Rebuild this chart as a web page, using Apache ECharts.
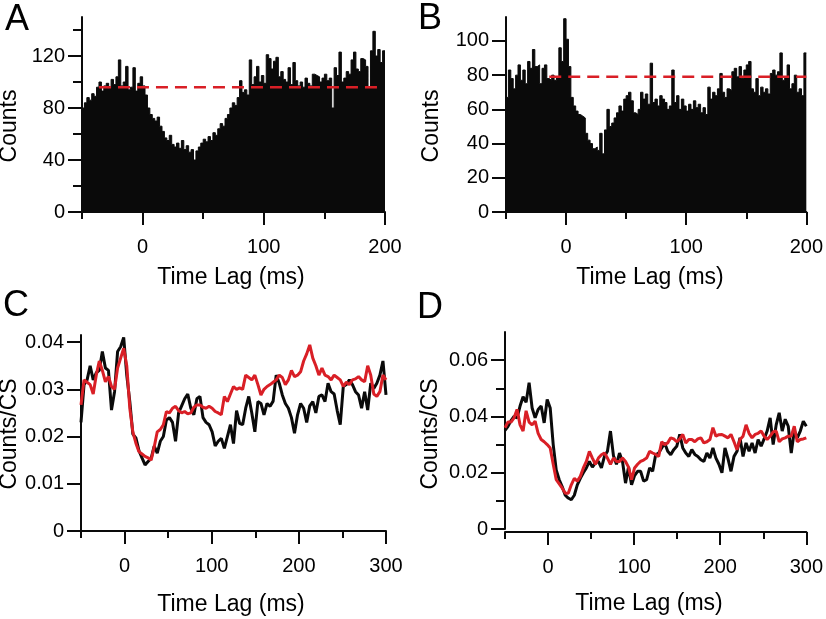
<!DOCTYPE html>
<html>
<head>
<meta charset="utf-8">
<script src="https://cdn.jsdelivr.net/npm/echarts@6/dist/echarts.min.js"></script>
<style>
html,body{margin:0;padding:0;background:#fff;}
#chart{width:826px;height:619px;}
</style>
</head>
<body>
<div id="chart"></div>
<script>
// ---------- data ----------
// Histograms (panels A, B): 2 ms bins starting at -50 ms
const binStart = -50;
const binWidth = 2;
const countsA = [
  80, 84, 88, 86, 91, 89, 96, 100, 93, 97,
  99, 95, 102, 98, 104, 117, 97, 100, 112, 94,
  96, 111, 93, 99, 104, 97, 90, 80, 75, 72,
  70, 73, 66, 62, 57, 55, 59, 52, 50, 53,
  49, 55, 48, 51, 46, 48, 40, 47, 50, 53,
  56, 54, 58, 55, 61, 59, 64, 68, 66, 72,
  75, 80, 84, 82, 88, 101, 92, 94, 90, 117,
  98, 104, 112, 100, 105, 99, 121, 118, 110, 116,
  119, 104, 108, 102, 100, 111, 98, 115, 101, 97,
  100, 96, 103, 99, 97, 106, 105, 104, 100, 103,
  106, 101, 103, 80, 111, 105, 123, 100, 103, 108,
  106, 117, 123, 110, 108, 118, 117, 112, 96, 124,
  139, 120, 125, 115, 124
];
const countsB = [
  67, 83, 78, 72, 80, 86, 77, 83, 75, 88,
  84, 95, 85, 86, 75, 84, 86, 78, 77, 80,
  77, 79, 96, 88, 113, 101, 85, 67, 62, 59,
  57, 56, 55, 46, 42, 40, 37, 38, 36, 46,
  34, 48, 60, 50, 52, 55, 58, 62, 59, 66,
  68, 70, 65, 58, 57, 60, 70, 66, 69, 63,
  87, 64, 66, 62, 68, 66, 64, 60, 62, 83,
  64, 68, 60, 66, 62, 59, 63, 60, 65, 61,
  63, 58, 61, 57, 73, 66, 70, 68, 72, 81,
  70, 67, 72, 71, 82, 84, 79, 85, 78, 83,
  86, 88, 72, 70, 78, 68, 73, 70, 72, 69,
  81, 83, 80, 82, 93, 77, 79, 86, 72, 75,
  80, 70, 72, 68, 93
];
const baselineA = 96;
const baselineSpanA = [-36, 198];
const baselineB = 79;
const baselineSpanB = [-14, 200];

// Normalised curves (panels C, D): samples every 3.5 ms from -50 ms to 300 ms
const lagStart = -50;
const lagStep = 3.5;
const cBlack = [
  0.023, 0.031, 0.032, 0.035, 0.032, 0.0335, 0.034, 0.038, 0.0345, 0.034,
  0.0256, 0.0295, 0.038, 0.039, 0.041, 0.033, 0.0274, 0.0205, 0.0197, 0.017,
  0.0155, 0.014, 0.0147, 0.0154, 0.018, 0.0165, 0.019, 0.020, 0.0235, 0.024,
  0.023, 0.019, 0.025, 0.0265, 0.028, 0.029, 0.026, 0.0246, 0.028, 0.0285,
  0.024, 0.023, 0.0225, 0.021, 0.018, 0.019, 0.0196, 0.0175, 0.020, 0.0225,
  0.0185, 0.0255, 0.0228, 0.0225, 0.026, 0.0285, 0.025, 0.021, 0.0274, 0.027,
  0.0246, 0.027, 0.0264, 0.0275, 0.033, 0.0313, 0.0288, 0.027, 0.026, 0.024,
  0.0207, 0.0246, 0.027, 0.026, 0.023, 0.0265, 0.0274, 0.025, 0.0285, 0.0288,
  0.0274, 0.0313, 0.0295, 0.029, 0.0255, 0.0225, 0.0306, 0.031, 0.032, 0.031,
  0.0295, 0.0288, 0.026, 0.0295, 0.0256, 0.0313, 0.0302, 0.0313, 0.033, 0.036,
  0.0288
];
const cRed = [
  0.0267, 0.032, 0.0315, 0.031, 0.029, 0.033, 0.036, 0.034, 0.0316, 0.0327,
  0.0306, 0.030, 0.0345, 0.0366, 0.0387, 0.035, 0.026, 0.021, 0.0186, 0.0168,
  0.0163, 0.0158, 0.0155, 0.015, 0.0178, 0.021, 0.0215, 0.0225, 0.0253, 0.025,
  0.026, 0.0264, 0.0255, 0.025, 0.0253, 0.0248, 0.025, 0.0262, 0.0267, 0.0267,
  0.0262, 0.026, 0.0264, 0.026, 0.0253, 0.025, 0.0246, 0.0285, 0.0274, 0.029,
  0.0306, 0.030, 0.0303, 0.030, 0.033, 0.0325, 0.032, 0.033, 0.031, 0.0288,
  0.030, 0.0306, 0.031, 0.0315, 0.032, 0.033, 0.0325, 0.031, 0.032, 0.034,
  0.0327, 0.033, 0.0337, 0.036, 0.0375, 0.0394, 0.0366, 0.035, 0.033, 0.0345,
  0.033, 0.0327, 0.032, 0.033, 0.0325, 0.032, 0.0306, 0.0315, 0.031, 0.032,
  0.0322, 0.0327, 0.032, 0.0316, 0.035, 0.033, 0.029, 0.0285, 0.0295, 0.033,
  0.032
];
const dBlack = [
  0.035, 0.0365, 0.0385, 0.040, 0.0395, 0.0437, 0.047, 0.045, 0.052, 0.043,
  0.0395, 0.0425, 0.0437, 0.0377, 0.046, 0.043, 0.030, 0.021, 0.0175, 0.015,
  0.012, 0.011, 0.0104, 0.012, 0.0157, 0.018, 0.020, 0.0217, 0.024, 0.022,
  0.0235, 0.024, 0.0217, 0.0258, 0.0276, 0.0348, 0.026, 0.023, 0.027, 0.024,
  0.0163, 0.022, 0.0157, 0.019, 0.0205, 0.0205, 0.017, 0.0175, 0.0217, 0.0205,
  0.0264, 0.027, 0.0288, 0.0306, 0.0276, 0.0264, 0.0282, 0.0294, 0.0336, 0.0288,
  0.027, 0.0258, 0.0282, 0.0265, 0.0258, 0.0246, 0.024, 0.027, 0.0252, 0.0288,
  0.0252, 0.023, 0.020, 0.0288, 0.025, 0.0205, 0.0258, 0.0276, 0.0324, 0.0258,
  0.0306, 0.0276, 0.0306, 0.027, 0.0318, 0.0294, 0.032, 0.0348, 0.0395, 0.030,
  0.037, 0.0413, 0.0348, 0.039, 0.0365, 0.027, 0.0348, 0.0324, 0.0348, 0.0383,
  0.0365
];
const dRed = [
  0.036, 0.038, 0.038, 0.0395, 0.0425, 0.037, 0.0348, 0.042, 0.038, 0.037,
  0.0383, 0.034, 0.0318, 0.031, 0.030, 0.0288, 0.023, 0.0175, 0.016, 0.0145,
  0.0127, 0.0127, 0.0157, 0.018, 0.017, 0.0187, 0.0217, 0.024, 0.0276, 0.0252,
  0.023, 0.0252, 0.0264, 0.027, 0.0252, 0.023, 0.0252, 0.024, 0.024, 0.0252,
  0.024, 0.022, 0.0175, 0.0217, 0.023, 0.024, 0.0245, 0.0252, 0.0276, 0.027,
  0.0265, 0.0258, 0.031, 0.030, 0.0306, 0.0324, 0.032, 0.031, 0.032, 0.0336,
  0.0306, 0.0318, 0.0318, 0.031, 0.032, 0.0324, 0.0306, 0.031, 0.0318, 0.036,
  0.033, 0.0335, 0.0336, 0.033, 0.0324, 0.0336, 0.031, 0.0282, 0.0318, 0.033,
  0.037, 0.034, 0.0324, 0.0336, 0.034, 0.0348, 0.033, 0.0318, 0.033, 0.0345,
  0.0348, 0.031, 0.032, 0.0324, 0.033, 0.033, 0.0365, 0.031, 0.0318, 0.032,
  0.0324
];

// tick values
const xMajorAB = [0, 100, 200];
const xMinorAB = [-50, 50, 150];
const yMajorA = [0, 40, 80, 120];
const yMinorA = [20, 60, 100, 140];
const yMajorB = [0, 20, 40, 60, 80, 100];
const xMajorCD = [0, 100, 200, 300];
const xMinorCD = [-50, 50, 150, 250];
const yMajorC = [0, 0.01, 0.02, 0.03, 0.04];
const yMajorD = [0, 0.02, 0.04, 0.06];
const yMinorD = [0.01, 0.03, 0.05];

// ---------- chart ----------
const FONT = '"Liberation Sans", Arial, Helvetica, sans-serif';
const RED = '#d91f26';
const INK = '#0a0a0a';

function xAxes(grid, min, max, major, minor, offset) {
  const base = {
    type: 'value', gridIndex: grid, min: min, max: max, position: 'bottom',
    offset: offset || 0, splitLine: { show: false }
  };
  return [
    Object.assign({}, base, {
      axisLine: { show: true, onZero: false, lineStyle: { color: INK, width: 2 } },
      axisTick: { show: true, customValues: major, length: 13, lineStyle: { color: INK, width: 2 } },
      axisLabel: { show: true, customValues: major, margin: 25, color: '#000', fontSize: 20, fontFamily: FONT }
    }),
    Object.assign({}, base, {
      axisLine: { show: false, onZero: false },
      axisTick: { show: minor.length > 0, customValues: minor.length ? minor : [min], length: 7, lineStyle: { color: INK, width: 2 } },
      axisLabel: { show: false }
    })
  ];
}
function yAxes(grid, min, max, major, minor, fmt) {
  const base = {
    type: 'value', gridIndex: grid, min: min, max: max, position: 'left',
    splitLine: { show: false }
  };
  return [
    Object.assign({}, base, {
      axisLine: { show: true, onZero: false, lineStyle: { color: INK, width: 2 } },
      axisTick: { show: true, customValues: major, length: 14, lineStyle: { color: INK, width: 2 } },
      axisLabel: { show: true, customValues: major, margin: 17, color: '#000', fontSize: 20, fontFamily: FONT, formatter: fmt }
    }),
    Object.assign({}, base, {
      axisLine: { show: false, onZero: false },
      axisTick: { show: minor.length > 0, customValues: minor.length ? minor : [min], length: 9, lineStyle: { color: INK, width: 2 } },
      axisLabel: { show: false }
    })
  ];
}

const decFmt = v => (v === 0 ? '0' : String(+v.toFixed(2)));

// histogram as a step outline: each count holds from its bin's left edge to the next edge
function histSteps(counts) {
  const pts = counts.map((v, i) => [binStart + binWidth * i, v]);
  pts.push([binStart + binWidth * counts.length, counts[counts.length - 1]]);
  return pts;
}
const toXY = arr => arr.map((v, i) => [lagStart + lagStep * i, v]);

const option = {
  animation: false,
  backgroundColor: '#fff',
  grid: [
    { left: 82, top: 17, width: 303, height: 195 },
    { left: 506, top: 17, width: 304, height: 195 },
    { left: 81, top: 335, width: 305, height: 196 },
    { left: 505, top: 332, width: 308, height: 197 }
  ],
  xAxis: [].concat(
    xAxes(0, -50, 200, xMajorAB, xMinorAB, 0),
    xAxes(1, -50, 200, xMajorAB, xMinorAB, 0),
    xAxes(2, -50, 300, xMajorCD, xMinorCD, 0),
    xAxes(3, -50, 300, xMajorCD, xMinorCD, 3)
  ),
  yAxis: [].concat(
    yAxes(0, 0, 150, yMajorA, yMinorA),
    yAxes(1, 0, 114, yMajorB, []),
    yAxes(2, 0, 0.0415, yMajorC, [], decFmt),
    yAxes(3, 0, 0.07, yMajorD, yMinorD, decFmt)
  ),
  series: [
    { type: 'line', step: 'end', xAxisIndex: 0, yAxisIndex: 0, data: histSteps(countsA),
      symbol: 'none', silent: true, lineStyle: { color: INK, width: 1 },
      areaStyle: { color: INK, opacity: 1 } },
    { type: 'line', xAxisIndex: 0, yAxisIndex: 0, z: 5, symbol: 'none', silent: true,
      data: [[baselineSpanA[0], baselineA], [baselineSpanA[1], baselineA]],
      lineStyle: { color: RED, width: 2.5, type: [12, 7] } },
    { type: 'line', step: 'end', xAxisIndex: 2, yAxisIndex: 2, data: histSteps(countsB),
      symbol: 'none', silent: true, lineStyle: { color: INK, width: 1 },
      areaStyle: { color: INK, opacity: 1 } },
    { type: 'line', xAxisIndex: 2, yAxisIndex: 2, z: 5, symbol: 'none', silent: true,
      data: [[baselineSpanB[0], baselineB], [baselineSpanB[1], baselineB]],
      lineStyle: { color: RED, width: 2.5, type: [12, 7] } },
    { type: 'line', xAxisIndex: 4, yAxisIndex: 4, symbol: 'none', silent: true,
      data: toXY(cBlack), lineStyle: { color: INK, width: 3 } },
    { type: 'line', xAxisIndex: 4, yAxisIndex: 4, symbol: 'none', silent: true,
      data: toXY(cRed), lineStyle: { color: RED, width: 3 } },
    { type: 'line', xAxisIndex: 6, yAxisIndex: 6, symbol: 'none', silent: true,
      data: toXY(dBlack), lineStyle: { color: INK, width: 3 } },
    { type: 'line', xAxisIndex: 6, yAxisIndex: 6, symbol: 'none', silent: true,
      data: toXY(dRed), lineStyle: { color: RED, width: 3 } }
  ],
  graphic: [
    { type: 'text', x: 5, y: 20, style: { text: 'A', fontSize: 36, fontFamily: FONT, fill: '#000', align: 'left', verticalAlign: 'middle' } },
    { type: 'text', x: 418, y: 19, style: { text: 'B', fontSize: 36, fontFamily: FONT, fill: '#000', align: 'left', verticalAlign: 'middle' } },
    { type: 'text', x: 3, y: 306, style: { text: 'C', fontSize: 36, fontFamily: FONT, fill: '#000', align: 'left', verticalAlign: 'middle' } },
    { type: 'text', x: 417, y: 308, style: { text: 'D', fontSize: 36, fontFamily: FONT, fill: '#000', align: 'left', verticalAlign: 'middle' } },
    { type: 'text', x: 10, y: 126, rotation: Math.PI / 2, style: { text: 'Counts', fontSize: 23, fontFamily: FONT, fill: '#000', align: 'center', verticalAlign: 'middle' } },
    { type: 'text', x: 432, y: 126, rotation: Math.PI / 2, style: { text: 'Counts', fontSize: 23, fontFamily: FONT, fill: '#000', align: 'center', verticalAlign: 'middle' } },
    { type: 'text', x: 10, y: 434, rotation: Math.PI / 2, style: { text: 'Counts/CS', fontSize: 23, fontFamily: FONT, fill: '#000', align: 'center', verticalAlign: 'middle' } },
    { type: 'text', x: 431, y: 434, rotation: Math.PI / 2, style: { text: 'Counts/CS', fontSize: 23, fontFamily: FONT, fill: '#000', align: 'center', verticalAlign: 'middle' } },
    { type: 'text', x: 231, y: 278, style: { text: 'Time Lag (ms)', fontSize: 23, fontFamily: FONT, fill: '#000', align: 'center', verticalAlign: 'middle' } },
    { type: 'text', x: 650, y: 278, style: { text: 'Time Lag (ms)', fontSize: 23, fontFamily: FONT, fill: '#000', align: 'center', verticalAlign: 'middle' } },
    { type: 'text', x: 231, y: 605, style: { text: 'Time Lag (ms)', fontSize: 23, fontFamily: FONT, fill: '#000', align: 'center', verticalAlign: 'middle' } },
    { type: 'text', x: 649, y: 604, style: { text: 'Time Lag (ms)', fontSize: 23, fontFamily: FONT, fill: '#000', align: 'center', verticalAlign: 'middle' } }
  ]
};

const chart = echarts.init(document.getElementById('chart'), null, { renderer: 'canvas' });
chart.setOption(option);
</script>
</body>
</html>
